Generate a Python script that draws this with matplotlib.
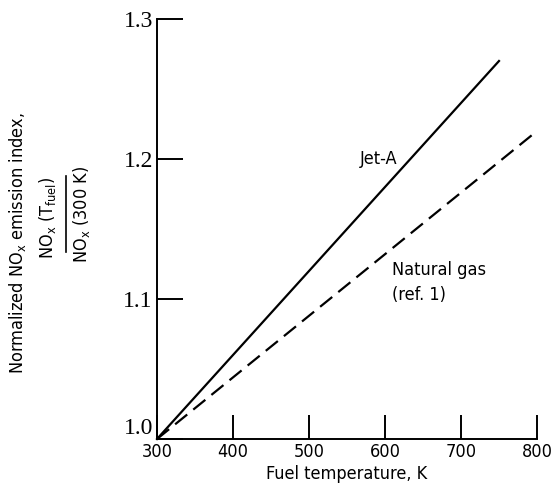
"""Normalized NOx emission index versus fuel temperature."""
import matplotlib
matplotlib.use("Agg")
import matplotlib.pyplot as plt
from matplotlib.lines import Line2D

plt.rcParams["mathtext.default"] = "regular"

# data
jet_a_temp = [300, 750]
jet_a_nox = [1.0, 1.27]
gas_temp = [300, 800]
gas_nox = [1.0, 1.22]
x_ticks = [300, 400, 500, 600, 700, 800]
y_ticks = [1.0, 1.1, 1.2, 1.3]
y_tick_labels = ["1.0", "1.1", "1.2", "1.3"]

sans = ["DejaVu Sans"]
serif = ["Liberation Serif", "DejaVu Serif"]
st = "condensed"

fig = plt.figure(figsize=(5.52, 4.93), dpi=100)
ax = fig.add_axes([157 / 552, 1 - 439 / 493, 380 / 552, 420 / 493])

ax.plot(jet_a_temp, jet_a_nox, color="black", lw=1.6, clip_on=False)
ax.plot(gas_temp, gas_nox, color="black", lw=1.6, dashes=(7, 3.5),
        clip_on=False)

ax.set_xlim(300, 800)
ax.set_ylim(1.0, 1.3)
ax.spines["top"].set_visible(False)
ax.spines["right"].set_visible(False)
for s in ("left", "bottom"):
    ax.spines[s].set_linewidth(1.4)

ax.set_xticks(x_ticks)
ax.set_xticklabels([str(t) for t in x_ticks], fontfamily=sans,
                   fontstretch=st, fontsize=13)
ax.set_yticks(y_ticks)
ax.set_yticklabels(y_tick_labels, fontfamily=serif, fontsize=17)
ax.tick_params(direction="in", width=1.4, pad=3)
ax.tick_params(axis="x", length=17)
ax.tick_params(axis="y", length=19)
ax.get_yticklabels()[0].set_va("bottom")

ax.set_xlabel("Fuel temperature, K", fontfamily=sans, fontstretch=st,
              fontsize=13, labelpad=3)

ax.text(592, 1.2, "Jet-A", fontfamily=sans, fontstretch=st, fontsize=13,
        ha="center", va="center")
ax.text(609, 1.121, "Natural gas", fontfamily=sans, fontstretch=st,
        fontsize=13, ha="left", va="center")
ax.text(609, 1.103, "(ref. 1)", fontfamily=sans, fontstretch=st,
        fontsize=13, ha="left", va="center")

# y label: first line plus a rotated fraction
fig.text(18 / 552, 1 - 243 / 493, "Normalized NO$_x$ emission index,",
         rotation=90, fontfamily=sans, fontstretch=st, fontsize=13,
         ha="center", va="center")
fig.text(48 / 552, 1 - 218 / 493, "NO$_x$ (T$_{fuel}$)",
         rotation=90, fontfamily=sans, fontstretch=st, fontsize=13,
         ha="center", va="center")
fig.text(82 / 552, 1 - 214 / 493, "NO$_x$ (300 K)",
         rotation=90, fontfamily=sans, fontstretch=st, fontsize=13,
         ha="center", va="center")
fig.add_artist(Line2D([66 / 552, 66 / 552], [1 - 176 / 493, 1 - 252 / 493],
                      color="black", lw=1.2, transform=fig.transFigure))

fig.savefig("out.png", dpi=100)
